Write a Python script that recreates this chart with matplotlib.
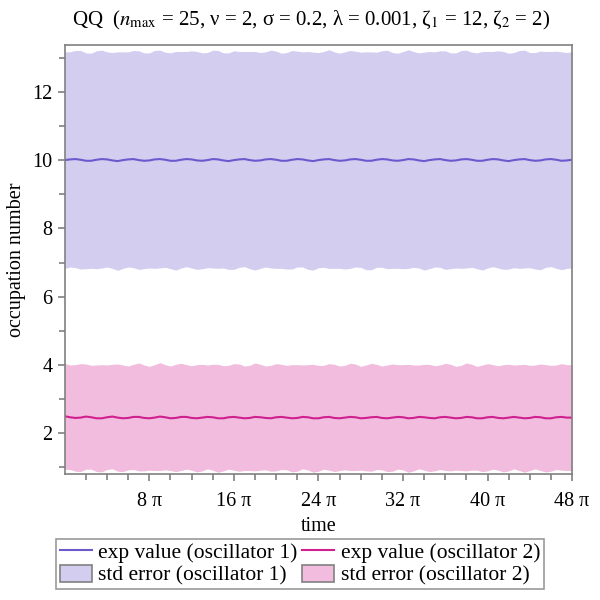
import numpy as np
import matplotlib
matplotlib.use("Agg")
import matplotlib.pyplot as plt
from matplotlib.ticker import MultipleLocator, FixedLocator
from matplotlib.patches import Patch
from matplotlib.lines import Line2D

plt.rcParams['font.family'] = ['Liberation Serif', 'DejaVu Serif']
plt.rcParams['mathtext.fontset'] = 'stix'

# sampled every pi/2 from t = 0 to t = 48 pi
mean1 = [10.00,10.02,10.03,10.01,9.98,9.98,10.01,10.03,10.02,9.99,
         9.97,10.00,10.02,10.03,10.00,9.98,9.99,10.02,10.03,10.01,
         9.98,9.98,10.01,10.03,10.02,9.99,9.98,10.00,10.03,10.02,
         9.99,9.97,10.00,10.02,10.03,10.00,9.98,9.99,10.02,10.03,
         10.01,9.98,9.98,10.01,10.03,10.02,9.99,9.97,10.00,10.02,
         10.03,10.00,9.98,9.99,10.02,10.03,10.01,9.98,9.98,10.01,
         10.03,10.02,9.99,9.98,10.00,10.03,10.02,9.99,9.97,10.00,
         10.02,10.03,10.00,9.98,9.99,10.02,10.03,10.01,9.98,9.98,
         10.01,10.03,10.02,9.99,9.97,10.00,10.02,10.03,10.00,9.98,
         9.99,10.02,10.03,10.01,9.98,9.99,10.01]
mean2 = [2.50,2.47,2.45,2.46,2.49,2.47,2.44,2.44,2.47,2.49,
         2.46,2.44,2.45,2.48,2.48,2.45,2.44,2.46,2.49,2.47,
         2.44,2.45,2.48,2.48,2.45,2.44,2.46,2.48,2.47,2.44,
         2.44,2.47,2.48,2.46,2.44,2.45,2.48,2.47,2.45,2.44,
         2.47,2.48,2.46,2.44,2.45,2.48,2.47,2.44,2.44,2.47,
         2.48,2.45,2.44,2.46,2.48,2.47,2.44,2.45,2.47,2.48,
         2.45,2.44,2.46,2.48,2.47,2.44,2.45,2.48,2.47,2.45,
         2.44,2.47,2.48,2.46,2.44,2.45,2.48,2.47,2.44,2.44,
         2.47,2.48,2.45,2.44,2.46,2.48,2.46,2.44,2.45,2.48,
         2.47,2.44,2.44,2.47,2.48,2.46,2.46]
sd1 = [3.17,3.15,3.18,3.20,3.16,3.15,3.19,3.19,3.15,3.16,
       3.20,3.17,3.15,3.18,3.20,3.16,3.15,3.19,3.19,3.15,
       3.16,3.20,3.17,3.15,3.18,3.19,3.16,3.15,3.19,3.19,
       3.15,3.17,3.20,3.16,3.15,3.18,3.20,3.16,3.15,3.19,
       3.18,3.15,3.17,3.20,3.16,3.15,3.19,3.19,3.15,3.16,
       3.20,3.17,3.15,3.18,3.19,3.16,3.15,3.19,3.19,3.15,
       3.17,3.20,3.16,3.15,3.18,3.20,3.16,3.15,3.19,3.18,
       3.15,3.17,3.20,3.16,3.15,3.19,3.19,3.15,3.16,3.20,
       3.17,3.15,3.18,3.19,3.16,3.15,3.19,3.19,3.15,3.17,
       3.20,3.16,3.15,3.18,3.19,3.16,3.17]
sd2 = [1.55,1.53,1.56,1.58,1.54,1.52,1.56,1.57,1.53,1.53,
       1.57,1.56,1.52,1.54,1.58,1.55,1.52,1.55,1.58,1.54,
       1.53,1.57,1.57,1.53,1.53,1.57,1.56,1.52,1.55,1.58,
       1.54,1.52,1.56,1.57,1.53,1.54,1.58,1.55,1.52,1.55,
       1.57,1.54,1.53,1.57,1.56,1.52,1.54,1.58,1.55,1.52,
       1.56,1.57,1.53,1.53,1.57,1.56,1.52,1.55,1.58,1.54,
       1.52,1.56,1.57,1.53,1.54,1.58,1.55,1.52,1.55,1.57,
       1.54,1.53,1.57,1.56,1.52,1.54,1.58,1.55,1.52,1.56,
       1.57,1.53,1.53,1.57,1.56,1.52,1.55,1.58,1.54,1.52,
       1.56,1.57,1.55,1.53,1.56,1.55,1.55]

xtick_mult = [8, 16, 24, 32, 40, 48]
xtick_labels = ["8 π", "16 π", "24 π", "32 π", "40 π", "48 π"]
legend_labels = ["exp value (oscillator 1)", "exp value (oscillator 2)",
                 "std error (oscillator 1)", "std error (oscillator 2)"]

c1_line = '#6A5ACD'
c1_fill = '#D3CEF0'
c2_line = '#D0208F'
c2_fill = '#F1BCDD'
gray = '#808080'

m1 = np.array(mean1); m2 = np.array(mean2)
s1 = np.array(sd1); s2 = np.array(sd2)
t = np.arange(len(m1)) * np.pi / 2

fig = plt.figure(figsize=(6, 6), dpi=100)
ax = fig.add_axes([0.108, 0.2095, 0.8455, 0.7155])

ax.fill_between(t, m1 - s1, m1 + s1, color=c1_fill, lw=0)
ax.fill_between(t, m2 - s2, m2 + s2, color=c2_fill, lw=0)
ax.plot(t, m1, color=c1_line, lw=1.5)
ax.plot(t, m2, color=c2_line, lw=1.5)

ax.set_xlim(0, 48 * np.pi)
ax.set_ylim(0.8, 13.37)
ax.xaxis.set_major_locator(FixedLocator([k * np.pi for k in xtick_mult]))
ax.set_xticklabels(xtick_labels)
ax.xaxis.set_minor_locator(FixedLocator([k * np.pi for k in range(2, 48, 2)]))
ax.yaxis.set_major_locator(MultipleLocator(2))
ax.yaxis.set_minor_locator(MultipleLocator(1))
ax.set_yticks([2, 4, 6, 8, 10, 12])

for sp in ax.spines.values():
    sp.set_color(gray)
    sp.set_linewidth(1.2)
ax.tick_params(which='both', direction='out', color=gray, width=1.2,
               labelsize=14.5, pad=4)
ax.tick_params(which='major', length=5)
ax.tick_params(which='minor', length=4)
ax.tick_params(axis='x', which='both', pad=8)

ax.set_xlabel("time", fontsize=14.5, labelpad=4)
ax.set_ylabel("occupation number", fontsize=14.5, labelpad=4)

ax.set_title(r"QQ  ($n_{\mathrm{max}}$ = 25, ν = 2, σ = 0.2, λ = 0.001, "
             r"ζ$_1$ = 12, ζ$_2$ = 2)", fontsize=15, pad=14, x=0.485)

handles = [Line2D([], [], color=c1_line, lw=1.5),
           Patch(facecolor=c1_fill, edgecolor=gray, lw=1.2),
           Line2D([], [], color=c2_line, lw=1.5),
           Patch(facecolor=c2_fill, edgecolor=gray, lw=1.2)]
labels = [legend_labels[0], legend_labels[2], legend_labels[1], legend_labels[3]]
leg = fig.legend(handles, labels, ncol=2, loc='center',
                 bbox_to_anchor=(0.5, 0.06), fontsize=15.5, frameon=True,
                 fancybox=False, edgecolor=gray, handlelength=1.5,
                 handleheight=0.9, handletextpad=0.3, columnspacing=0.2,
                 labelspacing=0.05, borderpad=0.15, borderaxespad=0)
leg.get_frame().set_linewidth(1.2)

fig.savefig("out.png", dpi=100)
